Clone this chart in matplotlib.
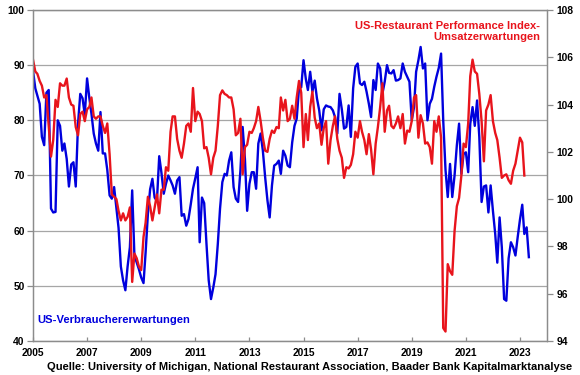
import matplotlib
matplotlib.use("Agg")
import matplotlib.pyplot as plt
import matplotlib.dates as mdates
import pandas as pd
import numpy as np

plt.rcParams['font.family'] = ['Liberation Sans', 'DejaVu Sans']
plt.rcParams['font.weight'] = 'bold'

# University of Michigan – Index of Consumer Expectations (left axis), monthly from Jan 2005
consumer_expectations = [
    89.0, 85.8, 84.5, 83.0, 77.0, 75.5, 85.0, 85.5, 64.0, 63.3, 63.4, 80.0,
    79.0, 74.5, 75.8, 73.0, 68.0, 72.0, 72.4, 68.0, 79.4, 84.8, 84.0, 81.0,
    87.6, 84.0, 81.2, 77.6, 75.8, 74.5, 81.5, 74.0, 74.0, 71.0, 66.4, 65.8,
    67.9, 64.0, 60.5, 53.5, 51.0, 49.2, 53.5, 57.0, 67.3, 55.5, 54.2, 53.0,
    51.5, 50.5, 56.0, 63.0, 67.5, 69.4, 66.0, 65.4, 73.5, 70.5, 66.7, 68.5,
    70.0, 69.1, 68.2, 66.7, 69.1, 69.7, 62.7, 63.0, 60.9, 62.1, 64.8, 67.6,
    69.5, 71.5, 57.9, 66.0, 65.0, 57.6, 51.0, 47.6, 49.7, 52.1, 57.6, 64.0,
    68.8, 70.3, 70.0, 72.7, 74.2, 67.9, 65.8, 65.2, 70.9, 78.8, 73.0, 63.6,
    68.5, 70.6, 70.6, 67.6, 75.8, 77.6, 74.5, 69.7, 65.5, 62.4, 68.2, 71.8,
    72.1, 72.7, 70.3, 74.5, 73.6, 71.8, 71.5, 76.0, 79.0, 80.3, 85.8, 86.0,
    90.9, 87.5, 85.5, 88.8, 85.2, 87.2, 84.0, 81.8, 78.2, 82.0, 82.7, 82.5,
    82.4, 81.8, 80.6, 77.6, 84.8, 82.0, 78.5, 78.8, 82.7, 77.0, 85.8, 89.7,
    90.3, 86.7, 86.4, 87.0, 85.2, 83.0, 80.6, 87.3, 85.5, 90.3, 89.4, 84.8,
    87.0, 90.0, 88.6, 88.5, 89.1, 87.2, 87.3, 87.6, 90.3, 88.8, 87.9, 87.0,
    80.0, 82.4, 88.8, 90.9, 93.3, 89.4, 90.3, 80.0, 83.0, 83.9, 86.1, 87.9,
    89.5, 92.1, 80.0, 71.0, 66.1, 72.1, 66.1, 70.0, 75.5, 79.4, 70.3, 73.9,
    74.2, 70.6, 79.4, 82.4, 79.0, 83.6, 77.0, 65.2, 68.0, 68.2, 63.3, 68.2,
    63.6, 59.4, 54.2, 62.4, 57.0, 47.6, 47.3, 55.0, 57.9, 57.0, 55.5, 58.8,
    62.0, 64.7, 59.4, 60.6, 55.2,
]

# Restaurant Performance Index – expectations component (right axis), monthly from Jan 2005
rpi_expectations = [
    105.9, 105.4, 105.3, 105.0, 104.8, 104.3, 104.4, 103.1, 101.8, 102.5, 104.2, 103.9,
    104.9, 104.8, 104.8, 105.1, 104.3, 104.0, 103.95, 103.05, 102.7, 103.6, 103.7, 103.3,
    103.8, 103.9, 104.3, 103.5, 103.4, 103.5, 103.5, 103.1, 102.8, 103.2, 101.9, 100.2,
    100.1, 100.0, 99.5, 99.1, 99.4, 99.1, 99.25, 99.65, 96.5, 97.7, 97.5, 97.15,
    97.0, 98.4, 99.0, 100.1, 99.7, 99.1, 99.65, 100.2, 99.4, 100.4, 100.4, 101.35,
    101.2, 102.85, 103.5, 103.5, 102.55, 102.05, 101.75, 102.35, 103.1, 103.2, 102.85, 104.7,
    103.3, 103.7, 103.6, 103.3, 102.15, 102.2, 101.75, 101.05, 101.75, 102.05, 103.1, 104.4,
    104.6, 104.45, 104.4, 104.3, 104.3, 103.8, 102.7, 102.8, 103.4, 101.05, 102.2, 102.3,
    102.85, 102.8, 103.0, 103.3, 103.9, 103.3, 102.6, 102.05, 102.0, 102.55, 102.9, 102.8,
    103.05, 103.0, 104.3, 103.75, 104.2, 103.3, 103.4, 103.95, 103.4, 104.3, 105.0, 104.5,
    102.2, 103.6, 102.5, 103.9, 104.55, 103.45, 103.0, 103.2, 102.3, 103.0, 103.3, 101.5,
    102.5, 103.1, 103.5, 102.55, 102.05, 101.75, 100.9, 101.35, 101.3, 101.45, 101.9, 102.85,
    102.6, 103.3, 102.85, 102.5, 101.9, 102.75, 102.1, 101.05, 102.35, 103.05, 103.9, 104.9,
    102.85, 103.75, 103.95, 103.1, 103.0, 103.2, 103.5, 103.0, 103.6, 102.35, 102.9, 102.85,
    103.3, 104.3, 104.4, 102.6, 103.55, 103.2, 102.35, 102.4, 102.2, 101.5, 103.3, 102.85,
    103.5, 102.6, 94.55, 94.4, 97.25, 96.95, 96.8, 98.65, 99.7, 100.05, 101.0, 102.35,
    102.2, 103.2, 105.2, 105.9, 105.4, 105.3, 104.45, 103.3, 101.6, 103.75, 104.0, 104.4,
    103.3, 102.8, 102.5, 101.75, 100.9, 101.0, 101.05, 100.8, 100.65, 101.2, 101.5, 102.05,
    102.6, 102.4, 101.0,
]

left_ticks = [40, 50, 60, 70, 80, 90, 100]
right_ticks = [94, 96, 98, 100, 102, 104, 106, 108]
year_ticks = [2005, 2007, 2009, 2011, 2013, 2015, 2017, 2019, 2021, 2023]

dates_c = pd.date_range('2005-01-01', periods=len(consumer_expectations), freq='MS')
dates_r = pd.date_range('2005-01-01', periods=len(rpi_expectations), freq='MS')

fig = plt.figure(figsize=(5.8, 3.75), dpi=100)
ax = fig.add_axes([33/580, 1-341/375, (547-33)/580, 331/375])
ax2 = ax.twinx()

blue = '#0000DD'
red = '#E8141C'

ax.plot(dates_c, consumer_expectations, color=blue, lw=1.7, solid_joinstyle='round')
ax2.plot(dates_r, rpi_expectations, color=red, lw=1.7, solid_joinstyle='round')

ax.set_xlim(pd.Timestamp('2005-01-01'), pd.Timestamp('2024-01-01'))
ax.set_ylim(40, 100)
ax2.set_ylim(94, 108)
ax.set_yticks(left_ticks)
ax2.set_yticks(right_ticks)
ax.set_xticks([pd.Timestamp(f'{y}-01-01') for y in year_ticks])
ax.xaxis.set_major_formatter(mdates.DateFormatter('%Y'))

ax.grid(axis='y', color='#A6A6A6', lw=0.9)
ax.set_axisbelow(True)

for a in (ax, ax2):
    for s in a.spines.values():
        s.set_color('#8C8C8C')
        s.set_linewidth(0.9)
    a.tick_params(colors='#8C8C8C', labelcolor='black', labelsize=7.4, width=0.9, length=4, direction='out')
for lab in ax.get_xticklabels() + ax.get_yticklabels() + ax2.get_yticklabels():
    lab.set_fontweight('bold')
ax.tick_params(axis='x', direction='in', length=3, pad=5)
ax.tick_params(axis='y', pad=2)
ax2.tick_params(axis='y', pad=3)

ax.text(0.987, 0.967, 'US-Restaurant Performance Index-\nUmsatzerwartungen', transform=ax.transAxes,
        ha='right', va='top', color=red, fontsize=8.0, fontweight='bold', linespacing=1.1)
ax.text(0.008, 0.064, 'US-Verbrauchererwartungen', transform=ax.transAxes,
        ha='left', va='center', color=blue, fontsize=8.1, fontweight='bold')

fig.text(572/580, 1-367/375, 'Quelle: University of Michigan, National Restaurant Association, Baader Bank Kapitalmarktanalyse',
         ha='right', va='center', fontsize=8.0, fontweight='bold', color='black')

fig.savefig('out.png', dpi=100)
